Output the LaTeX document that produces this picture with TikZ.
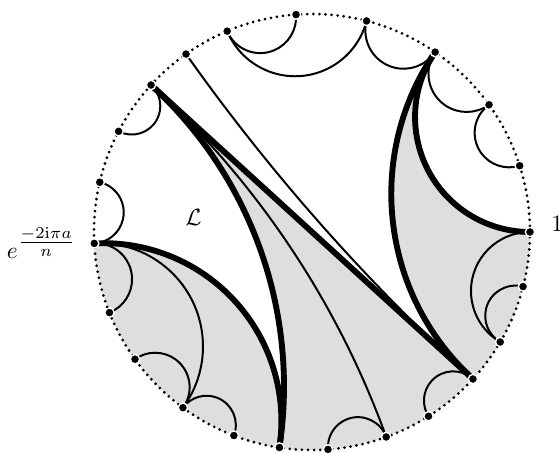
\documentclass[tikz,border=0pt]{standalone}
\usepackage{amsmath}

\def\R{3.27}
\tikzset{
  geoarc/.style 2 args={insert path={arc[start angle={#1+180+90*((#2)-(#1))/abs((#2)-(#1))}, end angle={#2+180-90*((#2)-(#1))/abs((#2)-(#1))}, radius={\R*tan(abs((#2)-(#1))/2)}]}},
  thinarc/.style={line width=0.85pt},
  thickarc/.style={line width=2.5pt},
  grayzone/.style={fill=black!13},
  rim/.style={line width=1.3pt, dash pattern=on 0pt off 2.6pt, line cap=round},
  vertex/.style={fill=black, draw=white, line width=0.6pt},
}

\begin{document}
\begin{tikzpicture}
  \useasboundingbox (-4.68,-3.315) rectangle (3.72,3.48);

  % points on the circle
  \foreach \i/\a in {0/0, 1/17.7, 2/35.7, 3/55.6, 4/75.5, 5/94.2, 6/112.9, 7/125.3,
      8/137.6, 9/152.5, 10/166.8, 11/183, 12/201.7, 13/215.7, 14/233.7, 15/249,
      16/261.4, 17/274.2, 18/289.9, 19/302.3, 20/317.6, 21/329.7, 22/345.5}
    \coordinate (p\i) at (\a:\R);

  % shaded pieces
  \fill[grayzone] (p11) arc[start angle=183, end angle=261.4, radius=\R] [geoarc={261.4}{183}] -- cycle;
  \fill[grayzone] (p8) [geoarc={137.6}{261.4}] arc[start angle=261.4, end angle=317.6, radius=\R] -- cycle;
  \fill[grayzone] (p3) [geoarc={55.6}{-42.4}] arc[start angle=-42.4, end angle=0, radius=\R] [geoarc={0}{55.6}] -- cycle;

  \draw[rim] (0,0) circle (\R);

  % thin geodesics
  \foreach \a/\b in {112.9/94.2, 112.9/75.5, 75.5/55.6, 55.6/35.7, 35.7/17.7,
      0/-30.3, -14.5/-30.3, -42.4/-57.7, -70.1/-85.8, 249/233.7, 233.7/215.7,
      183/233.7, 183/201.7, 166.8/183, 152.5/137.6, 137.6/289.9, 125.3/-42.4}
    \draw[thinarc] (\a:\R) [geoarc={\a}{\b}];

  % thick geodesics
  \draw[thickarc] (p8) -- (p20);
  \draw[thickarc] (p8) [geoarc={137.6}{261.4}];
  \draw[thickarc] (p11) [geoarc={183}{261.4}];
  \draw[thickarc] (p3) [geoarc={55.6}{-42.4}];
  \draw[thickarc] (p3) [geoarc={55.6}{0}];

  \foreach \i in {0,...,22}
    \filldraw[vertex] (p\i) circle (0.07);

  \node (lblL) at (-1.78,0.22) {$\mathcal{L}$};
  \node (lblone) at (3.68,0.12) {$1$};
  \node (lblexp) at (-4.06,-0.17) {$e^{\tfrac{-2\mathrm{i}\pi a}{n}}$};
\end{tikzpicture}
\end{document}
